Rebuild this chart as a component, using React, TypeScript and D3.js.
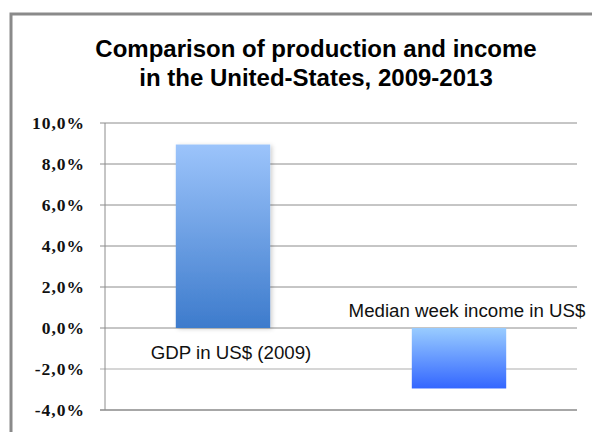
import React from 'react';
import * as d3 from 'd3';

// chart data
const categories = ['GDP in US$ (2009)', 'Median week income in US$'];
const values = [8.95, -2.95];
const yTicks = [-4, -2, 0, 2, 4, 6, 8, 10];
const titleLines = ['Comparison of production and income', 'in the United-States, 2009-2013'];

const W = 592;
const H = 432;

export default function App() {
    const plot = { left: 105, right: 577, top: 123, bottom: 410 };

    const y = d3.scaleLinear().domain([-4, 10]).range([plot.bottom, plot.top]);
    const x = d3.scaleBand<string>()
        .domain(categories)
        .range([plot.left, plot.right])
        .paddingInner(0.6)
        .paddingOuter(0.3);

    const fmt = (v: number) => v.toFixed(1).replace('.', ',') + '%';
    const gridColor = (v: number) => (v === -2 ? '#c8c8c8' : v === -4 ? '#8a8a8a' : '#8c8c8c');

    return (
        <svg width={W} height={H} style={{ position: 'fixed', left: 0, top: 0, background: '#fff' }}>
            <defs>
                <linearGradient id="g0" x1="0" y1="0" x2="0" y2="1">
                    <stop offset="0%" stopColor="#9cc4fb" />
                    <stop offset="100%" stopColor="#3d7bcc" />
                </linearGradient>
                <linearGradient id="g1" x1="0" y1="0" x2="0" y2="1">
                    <stop offset="0%" stopColor="#99ccff" />
                    <stop offset="100%" stopColor="#3366ff" />
                </linearGradient>
                <filter id="sh" x="-10%" y="-10%" width="130%" height="130%">
                    <feDropShadow dx="2" dy="1" stdDeviation="2" floodColor="#000" floodOpacity="0.18" />
                </filter>
            </defs>

            {/* outer frame */}
            <rect x={11} y={14} width={W + 20} height={H + 20} fill="#fff" stroke="#8a8a8a" strokeWidth={3} />

            {titleLines.map((t, i) => (
                <text key={t} x={316} y={57 + i * 29} textAnchor="middle"
                    fontFamily="Liberation Sans, Arial, sans-serif" fontWeight="bold" fontSize={24} fill="#000">
                    {t}
                </text>
            ))}

            {/* grid + ticks */}
            {yTicks.map(v => (
                <g key={v}>
                    <line x1={plot.left - 5} x2={plot.right} y1={y(v)} y2={y(v)}
                        stroke={gridColor(v)} strokeWidth={v === -4 ? 1.6 : v === -2 ? 1.4 : 1} />
                    <text x={85} y={y(v) + 6} textAnchor="end"
                        fontFamily="Liberation Serif, Times New Roman, serif" fontWeight="bold" fontSize={17.5}
                        letterSpacing={1} fill="#111">
                        {fmt(v)}
                    </text>
                </g>
            ))}
            <line x1={plot.left} x2={plot.left} y1={plot.top} y2={plot.bottom} stroke="#8c8c8c" strokeWidth={1} />

            {/* bars */}
            {categories.map((c, i) => {
                const v = values[i];
                const y0 = y(Math.max(0, v));
                const y1 = y(Math.min(0, v));
                return (
                    <rect key={c} x={x(c)} y={y0} width={x.bandwidth()} height={y1 - y0}
                        fill={`url(#g${i})`} filter={i === 0 ? 'url(#sh)' : undefined} />
                );
            })}

            {/* category labels */}
            {categories.map((c, i) => {
                const v = values[i];
                const cx = (x(c) ?? 0) + x.bandwidth() / 2 + 8;
                const ly = v >= 0 ? y(0) + 31 : y(0) - 11;
                return (
                    <text key={c} x={cx} y={ly} textAnchor="middle"
                        fontFamily="Liberation Sans, Arial, sans-serif" fontSize={18.7} fill="#111">
                        {c}
                    </text>
                );
            })}
        </svg>
    );
}
